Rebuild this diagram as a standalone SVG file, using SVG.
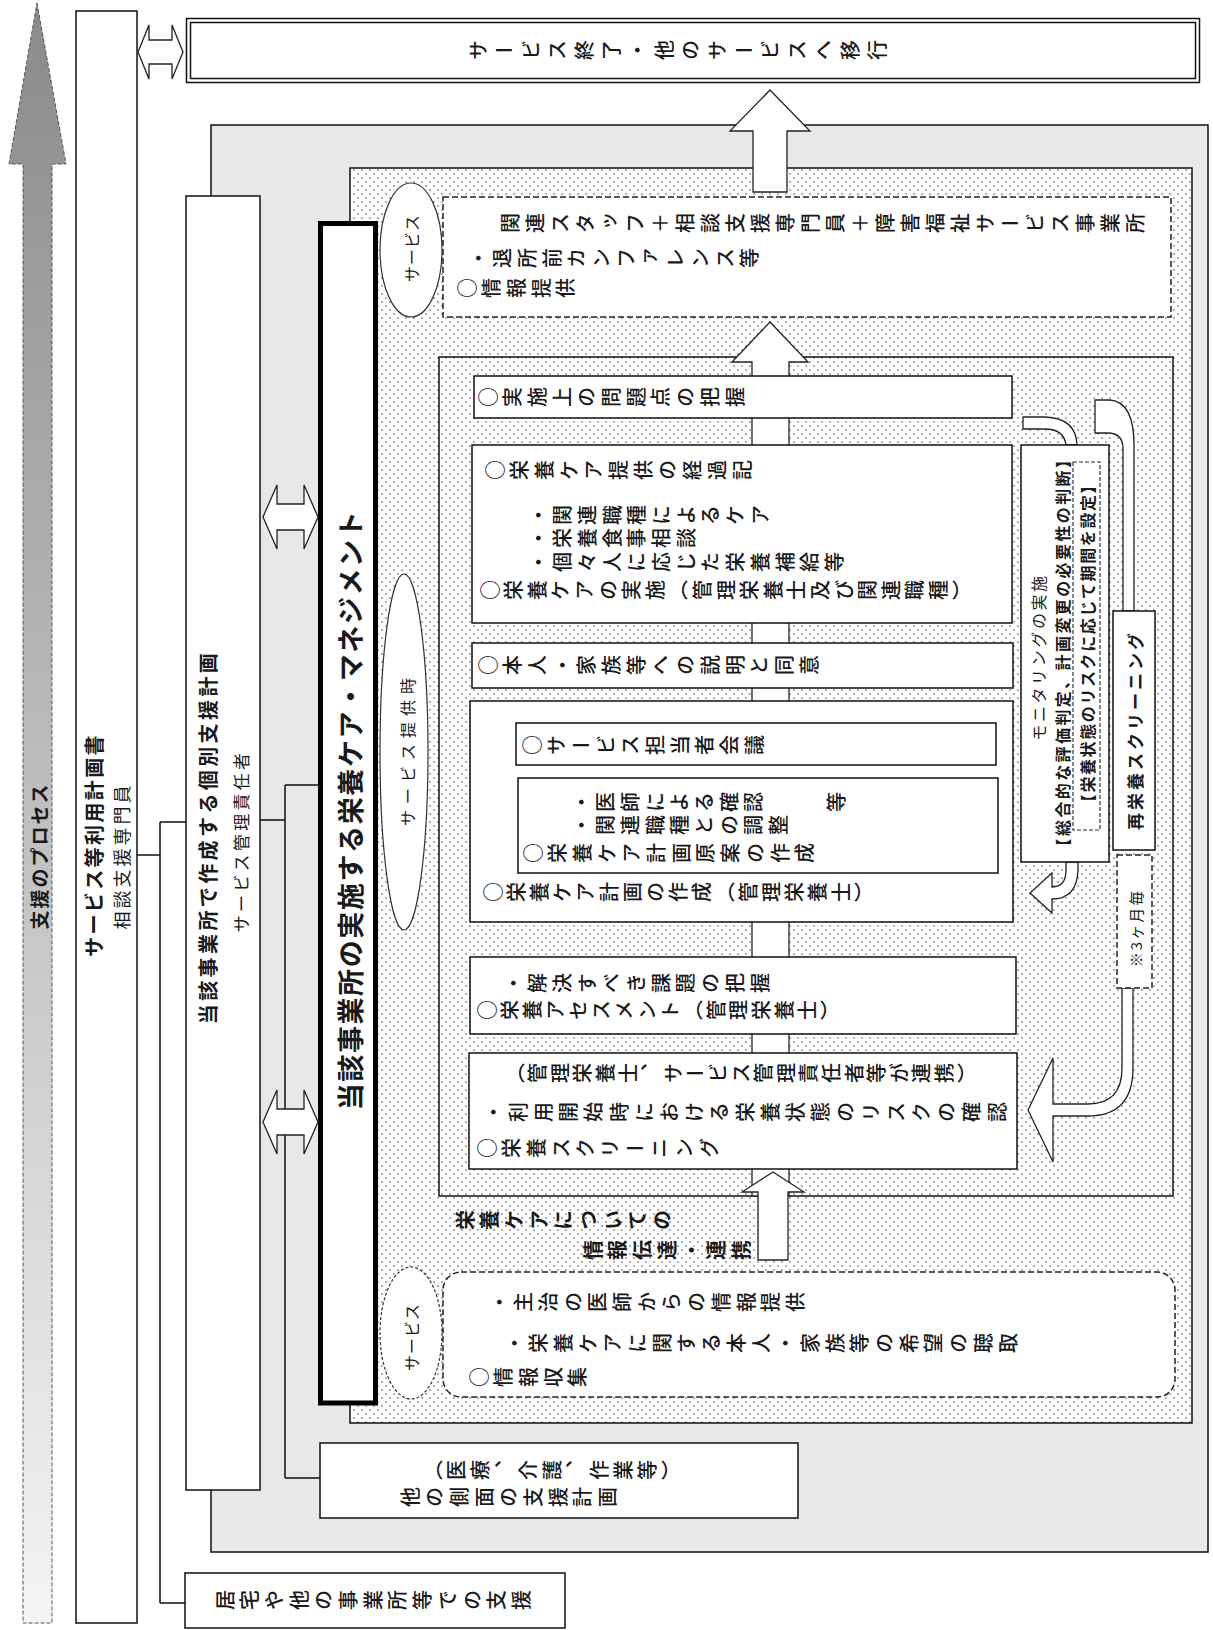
<svg xmlns="http://www.w3.org/2000/svg" width="1213" height="1630" viewBox="0 0 1213 1630">
<defs>
<pattern id="dots" width="8" height="8" patternUnits="userSpaceOnUse"><rect width="8" height="8" fill="#fff"/><circle cx="2" cy="2" r="0.9" fill="#8a8a8a"/><circle cx="6" cy="6" r="0.9" fill="#8a8a8a"/></pattern>
<linearGradient id="shaft" x1="0" y1="0" x2="0" y2="1"><stop offset="0" stop-color="#8a8a8a"/><stop offset="1" stop-color="#f4f4f4"/></linearGradient>
<style>
.box{fill:#fff;stroke:#111;stroke-width:1.5}
.dash{fill:#fff;stroke:#222;stroke-width:1.5;stroke-dasharray:6 3}
.ln{fill:none;stroke:#111;stroke-width:1.5}
.blk{fill:#fff;stroke:#222;stroke-width:1.3}
.t{font-family:"Noto Sans CJK JP","Noto Sans CJK SC",sans-serif;fill:#1a1a1a}
.v{writing-mode:vertical-rl;font-size:20px;letter-spacing:4.7px;font-weight:500}
.h{text-anchor:middle;dominant-baseline:central}
.b{font-weight:bold}
</style>
</defs>
<rect width="1213" height="1630" fill="#fff"/>

<g id="process-arrow">
<path d="M37,3 L66,164 L52,164 L52,1623 L23,1623 L23,164 L9,164 Z" fill="url(#shaft)" stroke="#555" stroke-width="1" stroke-dasharray="4 2"/>
<text class="t h b" transform="translate(38,856) rotate(-90)" font-size="19" letter-spacing="2">支援のプロセス</text>
</g>

<g id="service-use-plan">
<rect class="box" x="76" y="11" width="61" height="1612"/>
<text class="t h b" transform="translate(93,845) rotate(-90)" font-size="20" letter-spacing="2.4">サービス等利用計画書</text>
<text class="t h" transform="translate(121,856) rotate(-90)" font-size="18" letter-spacing="3">相談支援専門員</text>
</g>

<g id="service-end">
<rect class="box" x="186.5" y="18.5" width="1013" height="64"/>
<rect fill="none" stroke="#111" stroke-width="1.5" x="190.5" y="22.5" width="1005" height="56"/>
<text class="t v" style="letter-spacing:6.6px" transform="translate(468,50) rotate(-90)">サービス終了・他のサービスへ移行</text>
</g>

<g id="facility-area">
<rect x="211" y="125" width="997" height="1427" fill="#e8e8e8" stroke="#111" stroke-width="1.5"/>
</g>

<g id="individual-plan">
<rect class="box" x="186" y="196" width="74" height="1294"/>
<text class="t h b" transform="translate(207,837) rotate(-90)" font-size="20" letter-spacing="3.4">当該事業所で作成する個別支援計画</text>
<text class="t h" transform="translate(240,841) rotate(-90)" font-size="17" letter-spacing="3.3">サービス管理責任者</text>
</g>

<g id="nutrition-area">
<rect x="350" y="168" width="842" height="1255" fill="url(#dots)" stroke="#111" stroke-width="1.5"/>
</g>

<g id="nutrition-care-management">
<rect x="320.5" y="223.5" width="55" height="1179.5" fill="#fff" stroke="#000" stroke-width="5"/>
<text class="t h b" transform="translate(349,810) rotate(-90)" font-size="27" letter-spacing="1.6">当該事業所の実施する栄養ケア・マネジメント</text>
</g>

<g id="other-plans">
<rect class="box" x="320" y="1443" width="478" height="75"/>
<text class="t v" style="letter-spacing:3.8px" transform="translate(423,1470) rotate(-90)">（医療、介護、作業等）</text>
<text class="t v" transform="translate(400,1497) rotate(-90)">他の側面の支援計画</text>
</g>

<g id="home-support">
<rect class="box" x="185" y="1573" width="380" height="55"/>
<text class="t v" transform="translate(215,1600) rotate(-90)">居宅や他の事業所等での支援</text>
</g>

<g id="service-top-label">
<ellipse cx="411" cy="250" rx="31" ry="67" fill="#fff" stroke="#333" stroke-width="1.2"/>
<text class="t h" transform="translate(411,248) rotate(-90)" font-size="16" letter-spacing="1">サービス</text>
</g>

<g id="info-provision">
<rect class="dash" x="443" y="197" width="728" height="120"/>
<text class="t v" style="letter-spacing:5px" transform="translate(500,223) rotate(-90)">関連スタッフ＋相談支援専門員＋障害福祉サービス事業所</text>
<text class="t v" transform="translate(468,258) rotate(-90)">・退所前カンファレンス等</text>
<text class="t v" transform="translate(457,288) rotate(-90)">○情報提供</text>
</g>

<g id="service-provision-label">
<ellipse cx="404" cy="752" rx="24" ry="178" fill="#fff" stroke="#333" stroke-width="1.2"/>
<text class="t h" transform="translate(407,749) rotate(-90)" font-size="16" letter-spacing="6">サービス提供時</text>
</g>

<g id="service-bottom-label">
<ellipse cx="411" cy="1333" rx="31" ry="66" fill="#fff" stroke="#333" stroke-width="1.2" stroke-dasharray="3 2"/>
<text class="t h" transform="translate(411,1337) rotate(-90)" font-size="16" letter-spacing="1">サービス</text>
</g>

<g id="service-cycle">
<rect x="439" y="357" width="734" height="839" fill="url(#dots)" stroke="#111" stroke-width="1.5"/>
</g>

<g id="connectors">
<path class="ln" d="M137,855 H160 M160,822 V1603 M160,822 H186 M160,1603 H185"/>
<path class="ln" d="M260,820 H285 M285,785 V1478 M285,785 H318 M285,1478 H320"/>
<path class="blk" d="M138,52 L149,25 L149,40 L172,40 L172,25 L183,52 L172,79 L172,64 L149,64 L149,79 Z"/>
<path class="blk" d="M263,517 L277,485 L277,504 L304,504 L304,485 L318,517 L304,549 L304,530 L277,530 L277,549 Z"/>
<path class="blk" d="M263,1122 L277,1090 L277,1109 L304,1109 L304,1090 L318,1122 L304,1154 L304,1135 L277,1135 L277,1154 Z"/>
<path class="blk" d="M770,90 L810,131 L787,131 L787,192 L753,192 L753,131 L730,131 Z"/>
<path class="blk" d="M770,322 L808,362 L789,362 L789,1196 L752,1196 L752,362 L732,362 Z"/>
<path class="blk" d="M773,1172 L804,1192 L788,1192 L788,1260 L758,1260 L758,1192 L742,1192 Z"/>
<path class="blk" d="M1023,417 L1045,417 Q1076,418 1077,445 L1066,445 Q1064,429 1045,429 L1023,429 Z"/>
<path class="blk" d="M1066,862 L1078,862 L1078,870 Q1077,899 1052,899 L1052,913 L1030,893 L1052,873 L1052,887 Q1066,887 1066,870 Z"/>
<path class="blk" d="M1095,400 L1110,400 Q1134,402 1134,445 L1134,611 L1123,611 L1123,447 Q1122,433 1108,433 L1095,433 Z"/>
<path class="blk" d="M1122,988 L1133,988 L1133,1068 Q1133,1116 1088,1116 L1053,1116 L1053,1162 L1028,1110 L1053,1058 L1053,1104 L1088,1104 Q1122,1104 1122,1068 Z"/>
</g>

<g id="problem-grasp">
<rect class="box" x="474" y="376" width="538" height="42"/>
<text class="t v" transform="translate(478,397) rotate(-90)">○実施上の問題点の把握</text>
</g>

<g id="care-implementation">
<rect class="box" x="472" y="445" width="540" height="178"/>
<text class="t v" transform="translate(485,470) rotate(-90)">○栄養ケア提供の経過記</text>
<text class="t v" transform="translate(528,515) rotate(-90)">・関連職種によるケア</text>
<text class="t v" transform="translate(528,538) rotate(-90)">・栄養食事相談</text>
<text class="t v" transform="translate(528,562) rotate(-90)">・個々人に応じた栄養補給等</text>
<text class="t v" style="letter-spacing:3.6px" transform="translate(480,590) rotate(-90)">○栄養ケアの実施（管理栄養士及び関連職種）</text>
</g>

<g id="explanation-consent">
<rect class="box" x="472" y="643" width="541" height="45"/>
<text class="t v" transform="translate(478,665) rotate(-90)">○本人・家族等への説明と同意</text>
</g>

<g id="care-plan">
<rect class="box" x="470" y="701" width="543" height="221"/>
<rect class="box" x="516" y="723" width="480" height="42"/>
<text class="t v" transform="translate(522,745) rotate(-90)">○サービス担当者会議</text>
<rect class="box" x="518" y="778" width="480" height="95"/>
<text class="t v" transform="translate(571,802) rotate(-90)">・医師による確認</text>
<text class="t v" transform="translate(826,802) rotate(-90)">等</text>
<text class="t v" transform="translate(571,825) rotate(-90)">・関連職種との調整</text>
<text class="t v" transform="translate(523,853) rotate(-90)">○栄養ケア計画原案の作成</text>
<text class="t v" style="letter-spacing:3.2px" transform="translate(483,892) rotate(-90)">○栄養ケア計画の作成（管理栄養士）</text>
</g>

<g id="assessment">
<rect class="box" x="470" y="957" width="546" height="77"/>
<text class="t v" transform="translate(503,983) rotate(-90)">・解決すべき課題の把握</text>
<text class="t v" style="letter-spacing:2.9px" transform="translate(477,1010) rotate(-90)">○栄養アセスメント（管理栄養士）</text>
</g>

<g id="screening">
<rect class="box" x="469" y="1053" width="548" height="116"/>
<text class="t v" style="letter-spacing:2.6px" transform="translate(505,1073) rotate(-90)">（管理栄養士、サービス管理責任者等が連携）</text>
<text class="t v" style="letter-spacing:5.2px" transform="translate(483,1112) rotate(-90)">・利用開始時における栄養状態のリスクの確認</text>
<text class="t v" transform="translate(477,1148) rotate(-90)">○栄養スクリーニング</text>
</g>

<g id="monitoring">
<rect class="box" x="1021" y="445" width="88" height="417"/>
<rect fill="none" stroke="#333" stroke-width="1.2" stroke-dasharray="4 2" x="1073" y="462" width="27" height="368"/>
<text class="t h" transform="translate(1038,657) rotate(-90)" font-size="16" letter-spacing="2.6">モニタリングの実施</text>
<text class="t h b" transform="translate(1062,652) rotate(-90)" font-size="16" letter-spacing="2.4">【総合的な評価判定、計画変更の必要性の判断】</text>
<text class="t h b" transform="translate(1087,643) rotate(-90)" font-size="16" letter-spacing="1.6">【栄養状態のリスクに応じて期間を設定】</text>
</g>

<g id="rescreening">
<rect class="box" x="1113" y="611" width="42" height="239"/>
<text class="t h b" transform="translate(1134,730) rotate(-90)" font-size="17" letter-spacing="3">再栄養スクリーニング</text>
</g>

<g id="every-3-months">
<rect class="dash" x="1117" y="855" width="35" height="133" stroke-dasharray="4 2" stroke-width="1.2"/>
<text class="t h" transform="translate(1135,928) rotate(-90)" font-size="15" letter-spacing="2">※3ヶ月毎</text>
</g>

<g id="info-sharing-label">
<text class="t v b" transform="translate(455,1220) rotate(-90)">栄養ケアについての</text>
<text class="t v b" transform="translate(583,1250) rotate(-90)">情報伝達・連携</text>
</g>

<g id="info-collection">
<rect class="dash" x="443" y="1272" width="732" height="125" rx="18"/>
<text class="t v" transform="translate(489,1302) rotate(-90)">・主治の医師からの情報提供</text>
<text class="t v" transform="translate(504,1343) rotate(-90)">・栄養ケアに関する本人・家族等の希望の聴取</text>
<text class="t v" transform="translate(469,1377) rotate(-90)">○情報収集</text>
</g>
</svg>
